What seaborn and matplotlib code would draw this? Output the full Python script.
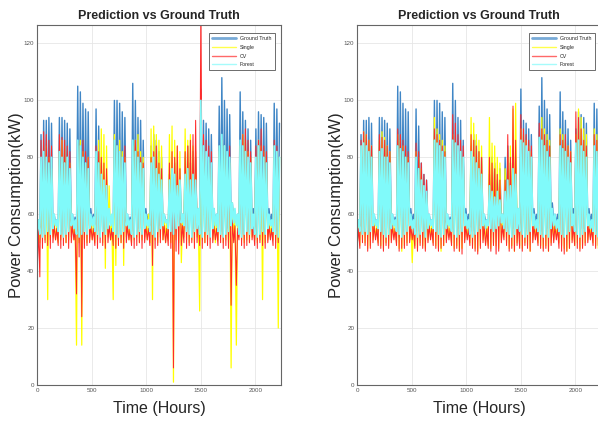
import numpy as np
import pandas as pd
import matplotlib
matplotlib.use("Agg")
import matplotlib.pyplot as plt
import seaborn as sns

# ---- data (one low and one peak value per day) ----
days = np.arange(93)

gt_peak = [58, 88, 93, 93, 94, 92, 60, 58, 94, 94, 93, 92, 90, 60, 59,
           105, 103, 99, 97, 96, 62, 60, 97, 91, 78, 74, 72, 60, 58,
           100, 100, 99, 96, 94, 60, 59, 106, 100, 94, 93, 86, 62, 60,
           84, 88, 86, 82, 80, 60, 58, 74, 80, 78, 72, 76, 60,
           80, 84, 78, 82, 80, 62, 104, 93, 92, 90, 88, 62, 60,
           98, 108, 100, 97, 95, 64, 60, 60, 103, 96, 93, 90, 86, 62,
           90, 96, 95, 94, 92, 62, 60, 99, 97, 92]
gt_low = [55, 54, 53, 54, 53, 54, 56, 57, 55, 54,
          53, 54, 55, 57, 56, 54, 52, 53, 54, 54,
          56, 57, 55, 54, 53, 55, 54, 56, 57, 55,
          54, 53, 54, 55, 57, 56, 54, 53, 54, 55,
          54, 56, 57, 55, 54, 53, 55, 56, 57, 58,
          56, 55, 54, 56, 57, 58, 57, 55, 54, 53,
          55, 56, 54, 53, 55, 54, 53, 56, 57, 55,
          54, 53, 54, 55, 57, 58, 57, 54, 53, 54,
          55, 54, 56, 54, 53, 54, 55, 54, 56, 57,
          55, 54, 53]

# left panel predictions
l_single_peak = [56, 62, 78, 84, 80, 76, 58, 56, 82, 86, 84, 80, 78, 58, 57,
                 84, 86, 82, 78, 80, 58, 57, 80, 86, 90, 88, 84, 70, 58,
                 88, 84, 86, 82, 80, 58, 57, 84, 86, 88, 82, 80, 58, 60,
                 90, 91, 88, 86, 84, 60, 58, 88, 91, 86, 84, 82, 58,
                 90, 86, 88, 84, 82, 60, 84, 82, 80, 78, 76, 60, 58,
                 82, 86, 84, 80, 78, 64, 60, 58, 84, 88, 86, 82, 80, 58,
                 80, 86, 84, 82, 80, 58, 57, 84, 82, 80]
l_single_low = [51, 50, 52, 51, 30, 51, 52, 51, 50, 51,
                52, 50, 51, 52, 51, 14, 50, 14, 51, 50,
                52, 51, 50, 51, 52, 50, 41, 52, 51, 30,
                42, 51, 50, 42, 52, 51, 50, 51, 52, 50,
                51, 52, 51, 50, 30, 51, 50, 52, 51, 50,
                51, 50, 1, 51, 50, 43, 52, 51, 50, 51,
                50, 52, 26, 51, 50, 51, 52, 51, 50, 51,
                52, 50, 51, 50, 6, 51, 14, 52, 51, 50,
                51, 50, 52, 51, 50, 51, 30, 50, 51, 52,
                51, 50, 20]
l_cv_peak = [55, 86, 89, 88, 86, 84, 56, 55, 88, 87, 86, 84, 82, 56, 55,
             85, 84, 86, 82, 80, 56, 55, 84, 82, 80, 78, 76, 56, 55,
             86, 84, 82, 80, 84, 56, 55, 84, 86, 82, 80, 78, 56, 55,
             80, 82, 84, 78, 76, 56, 55, 78, 82, 80, 84, 76, 56,
             82, 84, 86, 88, 93, 60, 135, 88, 86, 84, 82, 56, 55,
             84, 86, 82, 80, 84, 58, 56, 55, 84, 88, 90, 86, 82, 56,
             84, 86, 90, 84, 82, 56, 55, 86, 84, 80]
l_cv_low = [40, 38, 48, 50, 49, 48, 50, 51, 49, 48,
            49, 50, 48, 50, 51, 32, 45, 24, 48, 49,
            50, 51, 49, 48, 50, 49, 48, 50, 51, 49,
            48, 49, 50, 48, 50, 51, 49, 48, 49, 50,
            48, 50, 51, 49, 42, 48, 49, 50, 51, 50,
            49, 48, 6, 47, 46, 49, 50, 48, 49, 50,
            48, 50, 49, 48, 50, 49, 48, 50, 51, 49,
            50, 48, 49, 48, 28, 50, 35, 51, 49, 48,
            49, 50, 51, 49, 48, 50, 49, 48, 50, 51,
            49, 48, 50]
l_forest_peak = [58, 80, 82, 80, 78, 80, 60, 58, 82, 80, 78, 80, 76, 60, 58,
                 86, 84, 80, 78, 76, 60, 59, 82, 78, 74, 72, 70, 62, 60,
                 86, 84, 82, 80, 78, 60, 58, 86, 82, 80, 78, 76, 60, 58,
                 78, 80, 76, 74, 72, 60, 58, 72, 76, 74, 70, 72, 60,
                 74, 76, 72, 74, 72, 62, 100, 84, 82, 80, 78, 62, 60,
                 84, 88, 84, 82, 80, 64, 62, 60, 86, 84, 82, 80, 78, 60,
                 80, 84, 82, 80, 78, 60, 58, 84, 82, 80]
l_forest_low = [54, 53, 52, 53, 54, 53, 55, 56, 54, 53,
                52, 53, 54, 56, 55, 53, 52, 53, 54, 53,
                55, 56, 54, 53, 52, 54, 53, 55, 56, 54,
                53, 52, 53, 54, 56, 55, 53, 52, 53, 54,
                53, 55, 56, 54, 53, 52, 54, 55, 56, 57,
                55, 54, 53, 55, 56, 57, 56, 54, 53, 52,
                54, 55, 53, 52, 54, 53, 52, 55, 56, 54,
                53, 52, 53, 54, 56, 57, 56, 53, 52, 53,
                54, 53, 55, 53, 52, 53, 54, 53, 55, 56,
                54, 53, 52]

# right panel predictions
r_single_peak = [56, 84, 89, 88, 86, 84, 57, 56, 86, 89, 87, 84, 82, 57, 56,
                 88, 86, 84, 82, 80, 58, 56, 82, 80, 76, 70, 67, 58, 56,
                 94, 90, 88, 86, 84, 57, 56, 88, 86, 84, 82, 80, 58, 56,
                 94, 92, 88, 86, 84, 58, 56, 94, 85, 84, 80, 78, 57,
                 76, 80, 84, 97, 99, 60, 90, 88, 86, 84, 82, 58, 56,
                 86, 94, 90, 88, 86, 60, 58, 56, 90, 88, 86, 84, 82, 57,
                 88, 97, 94, 90, 88, 58, 56, 90, 88, 86]
r_single_low = [50, 49, 51, 50, 48, 49, 51, 52, 50, 49,
                48, 50, 49, 51, 52, 50, 48, 47, 49, 50,
                51, 43, 49, 48, 50, 49, 48, 51, 52, 50,
                49, 48, 47, 49, 51, 52, 50, 48, 49, 47,
                48, 51, 52, 50, 49, 48, 47, 49, 51, 50,
                49, 48, 50, 49, 48, 51, 52, 50, 48, 49,
                47, 50, 49, 48, 50, 49, 47, 51, 52, 50,
                49, 48, 49, 47, 50, 51, 52, 50, 49, 48,
                47, 48, 51, 49, 50, 48, 49, 50, 51, 52,
                50, 49, 48]
r_cv_peak = [55, 86, 89, 88, 86, 84, 56, 55, 88, 87, 86, 84, 82, 56, 55,
             90, 88, 86, 84, 82, 56, 55, 85, 82, 78, 74, 72, 56, 55,
             90, 88, 86, 84, 82, 56, 55, 95, 92, 88, 86, 84, 56, 55,
             88, 86, 84, 82, 80, 56, 55, 80, 78, 76, 74, 72, 56,
             72, 88, 80, 98, 86, 58, 95, 90, 88, 86, 84, 56, 55,
             92, 90, 88, 86, 84, 58, 56, 55, 88, 86, 88, 84, 82, 56,
             96, 94, 90, 86, 84, 56, 55, 88, 86, 84]
r_cv_low = [49, 48, 50, 49, 47, 48, 50, 51, 49, 48,
            47, 49, 48, 50, 51, 49, 47, 48, 48, 49,
            50, 51, 48, 47, 49, 48, 47, 50, 51, 49,
            48, 47, 48, 49, 50, 51, 49, 47, 48, 47,
            46, 50, 51, 49, 48, 47, 46, 48, 50, 49,
            48, 47, 49, 46, 47, 50, 51, 49, 47, 48,
            47, 49, 48, 47, 49, 48, 47, 50, 51, 49,
            48, 47, 48, 47, 49, 50, 51, 48, 47, 46,
            47, 48, 50, 49, 48, 47, 48, 49, 50, 51,
            49, 48, 49]
r_forest_peak = [58, 84, 85, 84, 82, 80, 60, 58, 82, 83, 80, 80, 78, 60, 58,
                 84, 83, 82, 80, 78, 60, 58, 80, 76, 72, 70, 68, 60, 58,
                 86, 85, 84, 82, 80, 60, 58, 86, 85, 84, 82, 80, 60, 58,
                 82, 80, 78, 76, 74, 60, 58, 70, 68, 66, 68, 65, 60,
                 68, 72, 70, 76, 74, 62, 86, 85, 84, 82, 80, 60, 58,
                 87, 86, 84, 82, 80, 62, 60, 58, 84, 83, 82, 80, 78, 60,
                 85, 86, 84, 82, 80, 60, 58, 84, 82, 80]
r_forest_low = [55, 54, 53, 54, 53, 54, 56, 56, 55, 54,
                53, 52, 53, 55, 56, 54, 53, 52, 53, 54,
                56, 55, 53, 52, 53, 54, 52, 55, 56, 55,
                54, 53, 52, 53, 55, 56, 54, 53, 52, 53,
                54, 56, 55, 53, 52, 53, 54, 55, 56, 55,
                56, 55, 54, 55, 56, 57, 55, 54, 53, 52,
                53, 55, 54, 53, 52, 53, 54, 56, 55, 54,
                53, 52, 53, 52, 55, 56, 55, 54, 53, 52,
                53, 54, 56, 54, 53, 52, 53, 54, 56, 55,
                54, 53, 52]

series_names = ["Ground Truth", "Single", "CV", "Forest"]
x_ticks = [0, 500, 1000, 1500, 2000]
y_ticks = [0, 20, 40, 60, 80, 100, 120]

# ---- style ----
sns.set_theme(style="whitegrid")
plt.rcParams['font.family'] = ['Liberation Sans', 'DejaVu Sans']

colors = {"Ground Truth": "#3f86c6", "Single": "#ffff00",
          "CV": "#ff2a2a", "Forest": "#80fafa"}
widths = {"Ground Truth": 1.0, "Single": 0.9, "CV": 0.75, "Forest": 1.25}


def to_frame(low, peak):
    low = np.asarray(low, float)
    peak = np.asarray(peak, float)
    hrs = np.column_stack([days * 24 + 2, days * 24 + 13]).ravel()
    vals = np.column_stack([low, peak]).ravel()
    return pd.DataFrame({"Hours": hrs, "kW": vals})


panels = [
    [(gt_low, gt_peak), (l_single_low, l_single_peak),
     (l_cv_low, l_cv_peak), (l_forest_low, l_forest_peak)],
    [(gt_low, gt_peak), (r_single_low, r_single_peak),
     (r_cv_low, r_cv_peak), (r_forest_low, r_forest_peak)],
]

fig = plt.figure(figsize=(5.98, 4.22), dpi=100)
axes = [fig.add_axes([37 / 598, 37 / 422, 244 / 598, 360 / 422]),
        fig.add_axes([357 / 598, 37 / 422, 244 / 598, 360 / 422])]

for ax, data in zip(axes, panels):
    for name, (low, peak) in zip(series_names, data):
        df = to_frame(low, peak)
        sns.lineplot(data=df, x="Hours", y="kW", ax=ax, color=colors[name],
                     linewidth=widths[name], label=name,
                     estimator=None, sort=False)
    ax.set_xlim(0, 2235)
    ax.set_ylim(0, 126.5)
    ax.set_xticks(x_ticks)
    ax.set_yticks(y_ticks)
    ax.tick_params(axis="both", labelsize=4.5, labelcolor="#555555",
                   direction="in", length=2, width=0.5, color="#444444",
                   pad=2)
    ax.grid(True, color="#e6e6e6", linewidth=0.6)
    ax.set_facecolor("white")
    for sp in ax.spines.values():
        sp.set_color("#666666")
        sp.set_linewidth(0.8)
    ax.set_title("Prediction vs Ground Truth", fontsize=9, fontweight="bold",
                 pad=4)
    ax.set_xlabel("Time (Hours)", fontsize=11.5, labelpad=6)
    ax.set_ylabel("Power Consumption(kW)", fontsize=12, labelpad=0)
    leg = ax.legend(loc="upper right", fontsize=3.8, frameon=True,
                    fancybox=False, framealpha=1, edgecolor="#555555",
                    handlelength=4.5, borderpad=0.6, labelspacing=0.7,
                    bbox_to_anchor=(0.985, 0.985))
    leg.get_frame().set_linewidth(0.6)
    for ln, name in zip(leg.get_lines(), series_names):
        ln.set_linewidth(2.0 if name == "Ground Truth" else 1.0)
        ln.set_alpha(0.7)

fig.savefig("out.png", dpi=100, facecolor="white")
